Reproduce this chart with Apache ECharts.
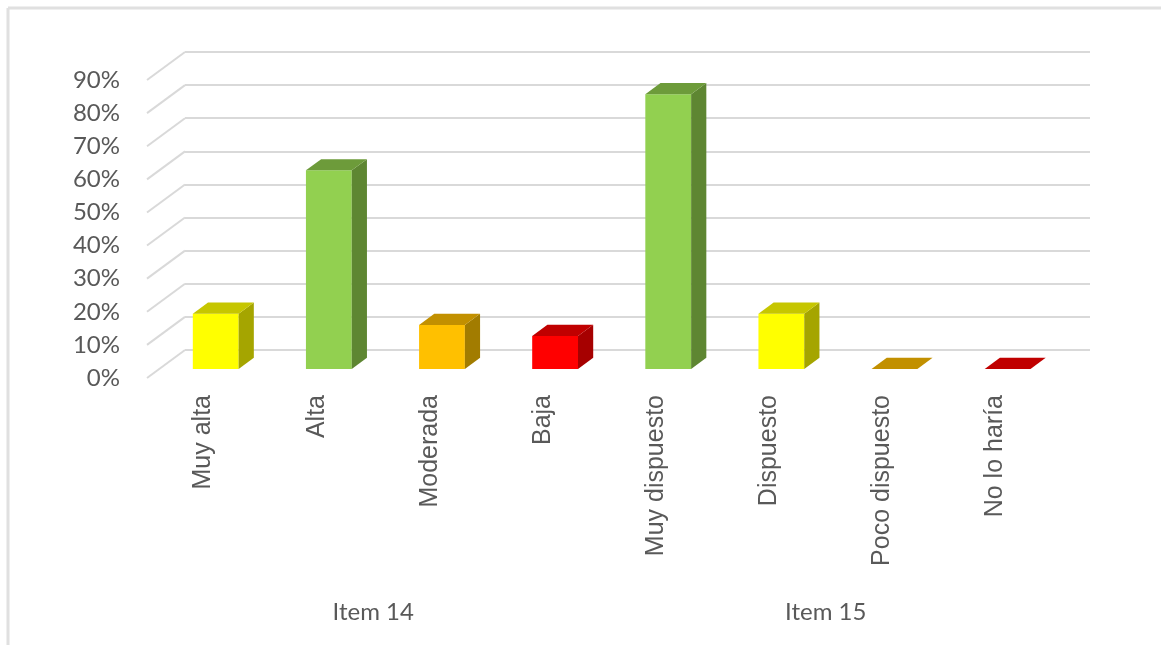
<!DOCTYPE html>
<html>
<head>
<meta charset="utf-8">
<script src="https://cdn.jsdelivr.net/npm/echarts@6/dist/echarts.min.js"></script>
<style>
html,body{margin:0;padding:0;background:#fff;}
#chart{width:1161px;height:645px;}
</style>
</head>
<body>
<div id="chart"></div>
<script>
// ---- data ----
const categories = ['Muy alta', 'Alta', 'Moderada', 'Baja', 'Muy dispuesto', 'Dispuesto', 'Poco dispuesto', 'No lo haría'];
const values = [0.167, 0.60, 0.133, 0.10, 0.83, 0.167, 0, 0];
const groups = ['Item 14', 'Item 15'];
const yTicks = [0, 0.1, 0.2, 0.3, 0.4, 0.5, 0.6, 0.7, 0.8, 0.9];

// ---- styles ----
const palette = {
  yellow: { front: '#FFFF00', side: '#A5A500', top: '#C6C600' },
  green:  { front: '#92D050', side: '#5E8632', top: '#6D9B3A' },
  orange: { front: '#FFC000', side: '#A27C00', top: '#C29000' },
  red:    { front: '#FF0000', side: '#A60000', top: '#C00000' }
};
const barColors = ['yellow', 'green', 'orange', 'red', 'green', 'yellow', 'orange', 'red'];

const DEPTH_X = -38, DEPTH_Y = 28;       // back wall -> front plane
const FRONT_F = 0.68, BACK_F = 0.28;     // bar depth span
const BACK = { left: 185, top: 52, right: 71, bottom: 295 };
const FRONT = { left: BACK.left + DEPTH_X, top: BACK.top + DEPTH_Y, right: BACK.right - DEPTH_X, bottom: BACK.bottom - DEPTH_Y };
const textColor = '#595959';
const gridColor = '#d9d9d9';

const chart = echarts.init(document.getElementById('chart'), null, { renderer: 'canvas' });

function renderBar(params, api) {
  const idx = api.value(0), val = api.value(1);
  const base = api.coord([idx, 0]);
  const top = api.coord([idx, val]);
  const band = api.size([1, 0])[0];
  const w = band * 0.405;
  const xl = base[0] - w / 2 + FRONT_F * DEPTH_X, xr = xl + w;
  const yb = base[1] + FRONT_F * DEPTH_Y, yt = top[1] + FRONT_F * DEPTH_Y;
  const dx = (BACK_F - FRONT_F) * DEPTH_X, dy = (BACK_F - FRONT_F) * DEPTH_Y;
  const c = palette[barColors[idx]];
  const children = [];
  if (yb - yt > 0.5) {
    children.push({ type: 'rect', shape: { x: xl, y: yt, width: w, height: yb - yt }, style: { fill: c.front } });
    children.push({ type: 'polygon', shape: { points: [[xr, yb], [xr + dx, yb + dy], [xr + dx, yt + dy], [xr, yt]] }, style: { fill: c.side } });
  }
  children.push({ type: 'polygon', shape: { points: [[xl, yt], [xr, yt], [xr + dx, yt + dy], [xl + dx, yt + dy]] }, style: { fill: c.top } });
  return { type: 'group', children: children };
}

function renderDiag(params, api) {
  const p = api.coord([0, api.value(1)]);
  const x0 = params.coordSys.x;
  return {
    type: 'line',
    shape: { x1: x0, y1: p[1], x2: x0 + DEPTH_X, y2: p[1] + DEPTH_Y },
    style: { stroke: gridColor, lineWidth: 2 }
  };
}

const option = {
  backgroundColor: '#ffffff',
  animation: false,
  graphic: [
    { type: 'line', shape: { x1: 8, y1: 8, x2: 1161, y2: 8 }, style: { stroke: '#e0e0e0', lineWidth: 3 } },
    { type: 'line', shape: { x1: 8, y1: 8, x2: 8, y2: 645 }, style: { stroke: '#e0e0e0', lineWidth: 3 } }
  ],
  grid: [
    { left: BACK.left, top: BACK.top, right: BACK.right, bottom: BACK.bottom },
    { left: FRONT.left, top: FRONT.top, right: FRONT.right, bottom: FRONT.bottom }
  ],
  xAxis: [
    { gridIndex: 0, type: 'category', data: categories, show: false },
    {
      gridIndex: 1, type: 'category', data: categories, position: 'bottom',
      axisLine: { show: false }, axisTick: { show: false },
      axisLabel: { interval: 0, rotate: 90, margin: 17, color: textColor, fontSize: 25, fontFamily: 'Liberation Sans' }
    },
    {
      gridIndex: 1, type: 'category', data: groups, position: 'bottom',
      axisLine: { show: false }, axisTick: { show: false },
      axisLabel: { interval: 0, margin: 222, color: textColor, fontSize: 24, fontFamily: 'Lato' }
    }
  ],
  yAxis: [
    {
      gridIndex: 0, type: 'value', min: 0, max: 0.9, interval: 0.1,
      axisLine: { show: false }, axisTick: { show: false }, axisLabel: { show: false },
      splitLine: { show: true, lineStyle: { color: gridColor, width: 2 } }
    },
    {
      gridIndex: 1, type: 'value', min: 0, max: 0.9, interval: 0.1,
      axisLine: { show: false }, axisTick: { show: false }, splitLine: { show: false },
      axisLabel: {
        margin: 27, color: textColor, fontSize: 24, fontFamily: 'Lato',
        formatter: function (v) { return Math.round(v * 100) + '%'; }
      }
    }
  ],
  series: [
    {
      type: 'custom', xAxisIndex: 0, yAxisIndex: 0, clip: false, z: 1, silent: true,
      renderItem: renderDiag,
      data: yTicks.map(function (v) { return [0, v]; })
    },
    {
      type: 'custom', xAxisIndex: 0, yAxisIndex: 0, clip: false, z: 5,
      renderItem: renderBar,
      data: values.map(function (v, i) { return [i, v]; })
    }
  ]
};
chart.setOption(option);
</script>
</body>
</html>
